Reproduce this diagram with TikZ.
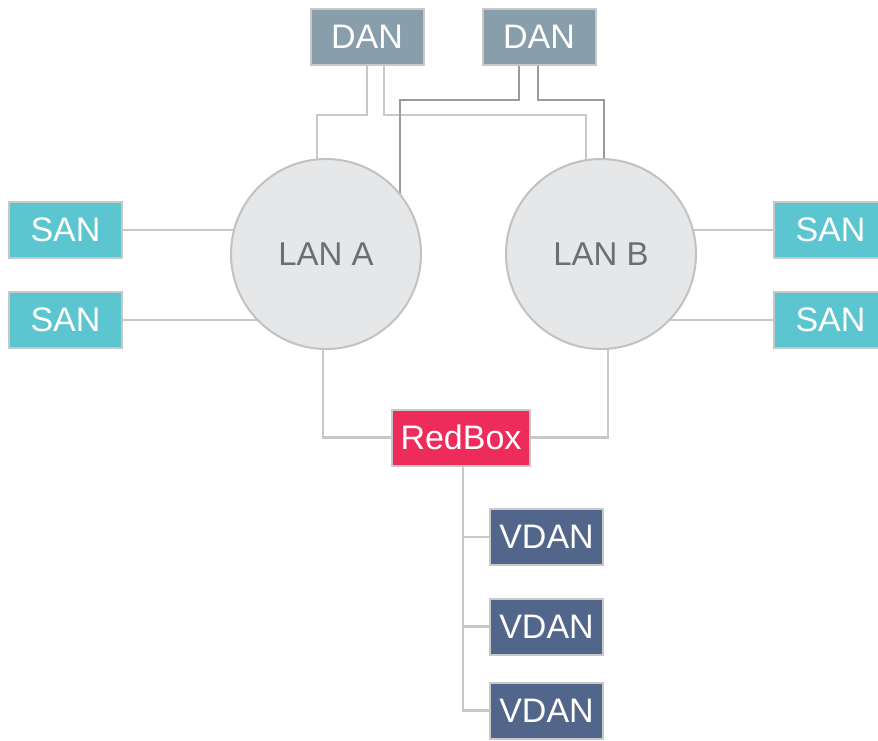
\documentclass[tikz,border=0pt]{standalone}
\usepackage{fontspec}
\setmainfont{Liberation Sans}
\usetikzlibrary{backgrounds}
\definecolor{danc}{HTML}{889EAA}
\definecolor{sanc}{HTML}{5BC6D0}
\definecolor{redc}{HTML}{EE2C5B}
\definecolor{vdanc}{HTML}{52658A}
\definecolor{bordc}{HTML}{C8C8C8}
\definecolor{linel}{HTML}{C8C8C8}
\definecolor{lined}{HTML}{9A9A9A}
\definecolor{lanfill}{HTML}{E6E7E8}
\definecolor{lanbord}{HTML}{C2C2C2}
\definecolor{lantext}{HTML}{6D6E71}
\tikzset{
  box/.style={rectangle, draw=bordc, line width=2pt, text=white,
    font=\fontsize{34}{38}\selectfont, minimum width=113pt, minimum height=56pt, inner sep=0pt},
  danbox/.style={box, fill=danc, minimum width=113pt},
  sanbox/.style={box, fill=sanc},
  redbox/.style={box, fill=redc, minimum width=138pt},
  vdanbox/.style={box, fill=vdanc},
  lan/.style={circle, draw=lanbord, line width=2pt, fill=lanfill, text=lantext,
    minimum size=190pt, inner sep=0pt, font=\fontsize{33}{37}\selectfont},
  lightline/.style={draw=linel, line width=2.2pt},
  darkline/.style={draw=lined, line width=2.2pt},
}
\begin{document}
\begin{tikzpicture}[x=1pt,y=-1pt]
\useasboundingbox (0,0) rectangle (878,740);
\clip (0,0) rectangle (878,740);
% nodes
\node[danbox] (dan1) at (367,36.5) {DAN};
\node[danbox] (dan2) at (539,36.5) {DAN};
\node[lan] (lanA) at (326,254) {LAN A};
\node[lan] (lanB) at (601,254) {LAN B};
\node[sanbox] (sanL1) at (65.5,230) {SAN};
\node[sanbox] (sanL2) at (65.5,320) {SAN};
\node[sanbox] (sanR1) at (830.5,230) {SAN};
\node[sanbox] (sanR2) at (830.5,320) {SAN};
\node[redbox] (rb) at (461,437.5) {RedBox};
\node[vdanbox] (v1) at (546.5,537) {VDAN};
\node[vdanbox] (v2) at (546.5,626.5) {VDAN};
\node[vdanbox] (v3) at (546.5,710.5) {VDAN};
\coordinate (a1) at (317,115);
\coordinate (a2) at (586,115);
\coordinate (b1) at (400,100);
\coordinate (b2) at (604,100);
\coordinate (r1) at (323,437.5);
\coordinate (r2) at (608,437.5);
\coordinate (vt) at (463,466);
\begin{scope}[on background layer]
  % DAN1 links
  \draw[lightline] (dan1.south) |- (a1) -- (a1 |- lanA.center);
  \draw[lightline] ([xshift=17pt]dan1.south) |- (a2) -- (a2 |- lanB.center);
  % DAN2 links
  \draw[darkline] ([xshift=-20pt]dan2.south) |- (b1) -- (b1 |- lanA.center);
  \draw[darkline] ([xshift=-1pt]dan2.south) |- (b2) -- (b2 |- lanB.center);
  % SAN links
  \draw[lightline] (sanL1.east) -- (sanL1.east -| lanA.center);
  \draw[lightline] (sanL2.east) -- (sanL2.east -| lanA.center);
  \draw[lightline] (sanR1.west) -- (sanR1.west -| lanB.center);
  \draw[lightline] (sanR2.west) -- (sanR2.west -| lanB.center);
  % RedBox links
  \draw[lightline] (rb.west) -| (r1) -- (r1 |- lanA.center);
  \draw[lightline] (rb.east) -| (r2) -- (r2 |- lanB.center);
  % VDAN links
  \draw[lightline] (vt) |- (v3.west);
  \draw[lightline] (vt |- v1.west) -- (v1.west);
  \draw[lightline] (vt |- v2.west) -- (v2.west);
\end{scope}
\end{tikzpicture}
\end{document}
